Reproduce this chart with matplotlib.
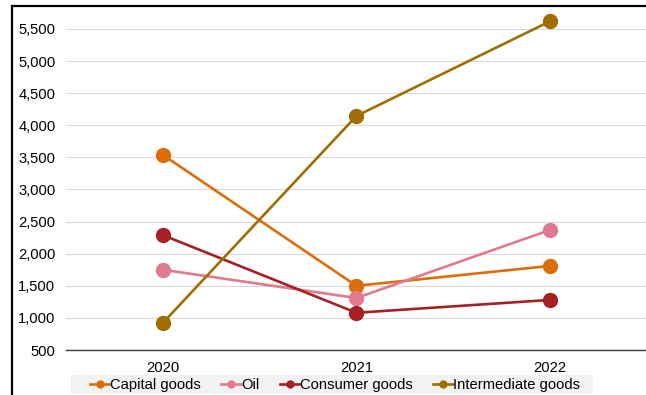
import matplotlib
matplotlib.use("Agg")
import matplotlib.pyplot as plt
from matplotlib.lines import Line2D
from matplotlib.patches import Rectangle

plt.rcParams['font.family'] = ['Liberation Sans', 'DejaVu Sans']

years = ["2020", "2021", "2022"]
capital_goods = [3540, 1500, 1810]
oil = [1750, 1310, 2370]
consumer_goods = [2290, 1080, 1280]
intermediate_goods = [920, 4145, 5620]

series_names = ["Capital goods", "Oil", "Consumer goods", "Intermediate goods"]
series_values = [capital_goods, oil, consumer_goods, intermediate_goods]
series_colors = ["#DB6E0B", "#E07A8E", "#A51F25", "#A06E00"]

yticks = [500, 1000, 1500, 2000, 2500, 3000, 3500, 4000, 4500, 5000, 5500]

W, H = 646, 395
fig = plt.figure(figsize=(W / 100, H / 100), dpi=100)
ax = fig.add_axes([0.102, 0.1139, 0.8994, 0.8615])

x = list(range(len(years)))
for name, vals, col in zip(series_names, series_values, series_colors):
    ax.plot(x, vals, color=col, lw=1.9, marker="o", markersize=10,
            label=name, zorder=3)

ax.set_xlim(-0.5, 2.5)
ax.set_ylim(500, 5800)
ax.set_xticks(x)
ax.set_xticklabels(years)
ax.set_yticks(yticks)
ax.set_yticklabels([f"{v:,}" for v in yticks])
ax.tick_params(axis="both", length=0, labelsize=10.6, colors="#000000")
ax.tick_params(axis="x", pad=8)
ax.tick_params(axis="y", pad=7.5)

ax.grid(axis="y", color="#d9d9d9", lw=0.8, zorder=0)
for s in ["top", "right", "left"]:
    ax.spines[s].set_visible(False)
ax.spines["bottom"].set_color("#404040")
ax.spines["bottom"].set_linewidth(1.0)

# legend background strip
fig.add_artist(Rectangle((70 / W, 1 - 394 / H), (593 - 70) / W, 19 / H,
                         transform=fig.transFigure, facecolor="#f2f2f2",
                         edgecolor="none", zorder=1))

handles = [Line2D([0], [0], color=c, lw=1.9, marker="o", markersize=5)
           for c in series_colors]
leg = fig.legend(handles, series_names, loc="center", bbox_to_anchor=(335 / W, 1 - 385 / H),
                 ncol=4, frameon=False, fontsize=10.6, handlelength=1.35,
                 handletextpad=0.05, columnspacing=1.35, borderpad=0.0)
leg.set_zorder(2)

# outer frame lines (left and top)
fig.add_artist(Line2D([11.5 / W, 11.5 / W], [0, 1 - 6 / H],
                      transform=fig.transFigure, color="black", lw=1.6))
fig.add_artist(Line2D([11.5 / W, 1], [1 - 6 / H, 1 - 6 / H],
                      transform=fig.transFigure, color="black", lw=1.6))

fig.savefig("out.png", dpi=100)
